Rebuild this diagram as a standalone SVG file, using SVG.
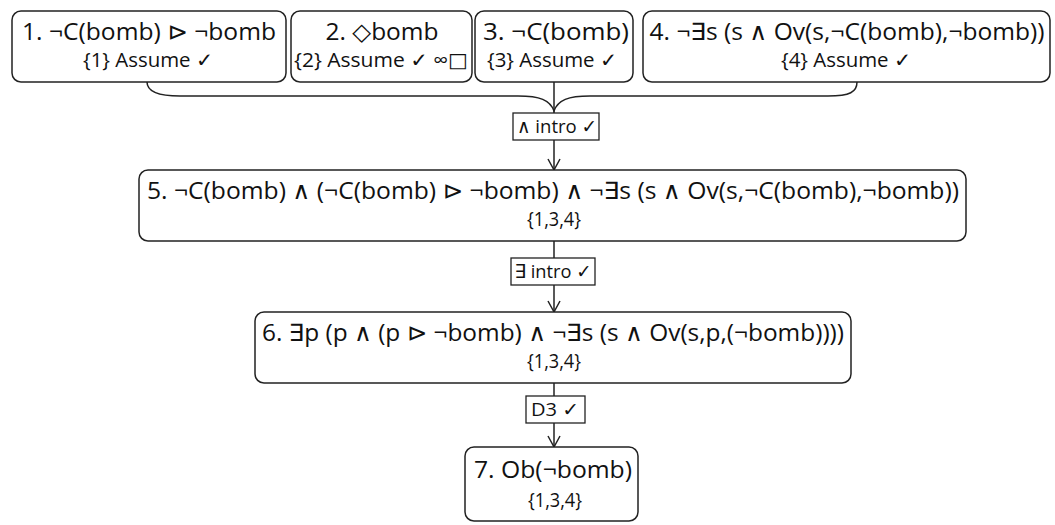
<svg xmlns="http://www.w3.org/2000/svg" width="1055" height="525" viewBox="0 0 1055 525">
<style>
.box{fill:#fff;stroke:#222;stroke-width:1.5}
.lbl{fill:#fff;stroke:#222;stroke-width:1.3}
.t{font-family:"Open Sans","DejaVu Sans",sans-serif;font-size:24px;fill:#111;text-anchor:middle}
.s{font-family:"Open Sans","DejaVu Sans",sans-serif;font-size:20px;fill:#111;text-anchor:middle}
.l{font-family:"Open Sans","DejaVu Sans",sans-serif;font-size:19px;fill:#111;text-anchor:middle}
.c{fill:none;stroke:#222;stroke-width:1.5}
</style>
<defs>
<marker id="ah" markerWidth="14" markerHeight="14" refX="12" refY="7" orient="auto" markerUnits="userSpaceOnUse">
<path d="M1,1 L12,7 L1,13" fill="none" stroke="#222" stroke-width="1.5"/>
</marker>
</defs>
<rect width="1055" height="525" fill="#fff"/>
<g id="connectors">
<path class="c" d="M147,82 C147,92 158,96 180,96 L518,96 C540,96 550,100 554,111 C558,100 568,96 590,96 L828,96 C850,96 857,92 857,82"/>
<line class="c" x1="554" y1="82" x2="554" y2="113"/>
<line class="c" x1="554" y1="140" x2="554" y2="170" marker-end="url(#ah)"/>
<line class="c" x1="554" y1="241" x2="554" y2="258"/>
<line class="c" x1="554" y1="285" x2="554" y2="312" marker-end="url(#ah)"/>
<line class="c" x1="554" y1="383" x2="554" y2="396"/>
<line class="c" x1="554" y1="423" x2="554" y2="447" marker-end="url(#ah)"/>
</g>
<g id="n1"><rect class="box" x="12" y="11" width="274" height="71" rx="9"/>
<text class="t" x="149" y="40" textLength="254" lengthAdjust="spacingAndGlyphs">1. ¬C(bomb) ⊳ ¬bomb</text>
<text class="s" x="148" y="67" textLength="130" lengthAdjust="spacingAndGlyphs">{1} Assume ✓</text></g>
<g id="n2"><rect class="box" x="291" y="11" width="181" height="71" rx="9"/>
<text class="t" x="382" y="40" textLength="113" lengthAdjust="spacingAndGlyphs">2. ◇bomb</text>
<text class="s" x="381" y="67" textLength="174" lengthAdjust="spacingAndGlyphs">{2} Assume ✓ ∞□</text></g>
<g id="n3"><rect class="box" x="475" y="11" width="158" height="71" rx="9"/>
<text class="t" x="556" y="40" textLength="146" lengthAdjust="spacingAndGlyphs">3. ¬C(bomb)</text>
<text class="s" x="552" y="67" textLength="130" lengthAdjust="spacingAndGlyphs">{3} Assume ✓</text></g>
<g id="n4"><rect class="box" x="643" y="11" width="407" height="71" rx="9"/>
<text class="t" x="847" y="40" textLength="395" lengthAdjust="spacingAndGlyphs">4. ¬∃s (s ∧ Ov(s,¬C(bomb),¬bomb))</text>
<text class="s" x="846" y="67" textLength="130" lengthAdjust="spacingAndGlyphs">{4} Assume ✓</text></g>
<g id="l1"><rect class="lbl" x="513" y="113" width="86" height="27"/>
<text class="l" x="557" y="133" textLength="80" lengthAdjust="spacingAndGlyphs">∧ intro ✓</text></g>
<g id="n5"><rect class="box" x="139" y="170" width="827" height="71" rx="9"/>
<text class="t" x="553" y="199" textLength="812" lengthAdjust="spacingAndGlyphs">5. ¬C(bomb) ∧ (¬C(bomb) ⊳ ¬bomb) ∧ ¬∃s (s ∧ Ov(s,¬C(bomb),¬bomb))</text>
<text class="s" x="554" y="226" textLength="54" lengthAdjust="spacingAndGlyphs">{1,3,4}</text></g>
<g id="l2"><rect class="lbl" x="511" y="258" width="84" height="27"/>
<text class="l" x="553" y="278" textLength="77" lengthAdjust="spacingAndGlyphs">∃ intro ✓</text></g>
<g id="n6"><rect class="box" x="255" y="312" width="596" height="71" rx="9"/>
<text class="t" x="553" y="341" textLength="582" lengthAdjust="spacingAndGlyphs">6. ∃p (p ∧ (p ⊳ ¬bomb) ∧ ¬∃s (s ∧ Ov(s,p,(¬bomb))))</text>
<text class="s" x="554" y="368" textLength="54" lengthAdjust="spacingAndGlyphs">{1,3,4}</text></g>
<g id="l3"><rect class="lbl" x="526" y="396" width="59" height="27"/>
<text class="l" x="555" y="416" textLength="48" lengthAdjust="spacingAndGlyphs">D3 ✓</text></g>
<g id="n7"><rect class="box" x="465" y="447" width="173" height="74" rx="9"/>
<text class="t" x="553" y="478" textLength="158" lengthAdjust="spacingAndGlyphs">7. Ob(¬bomb)</text>
<text class="s" x="555" y="507" textLength="54" lengthAdjust="spacingAndGlyphs">{1,3,4}</text></g>
</svg>
